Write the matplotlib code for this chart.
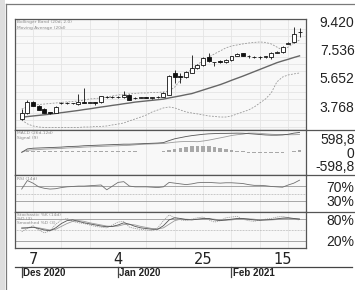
import matplotlib
matplotlib.use("Agg")
import matplotlib.pyplot as plt
import matplotlib.transforms as mtransforms
from matplotlib.patches import Rectangle
from matplotlib.lines import Line2D
import numpy as np
import pandas as pd

# trading days shown
dates = pd.to_datetime([
    "2020-12-03", "2020-12-04", "2020-12-07", "2020-12-08", "2020-12-10", "2020-12-11",
    "2020-12-14", "2020-12-15", "2020-12-16", "2020-12-17", "2020-12-18", "2020-12-21",
    "2020-12-22", "2020-12-23", "2020-12-28", "2020-12-29", "2020-12-30",
    "2021-01-04", "2021-01-05", "2021-01-06", "2021-01-07", "2021-01-08", "2021-01-11",
    "2021-01-12", "2021-01-13", "2021-01-14", "2021-01-15", "2021-01-18", "2021-01-19",
    "2021-01-20", "2021-01-21", "2021-01-22", "2021-01-25", "2021-01-26", "2021-01-27",
    "2021-01-28", "2021-01-29", "2021-02-01", "2021-02-02", "2021-02-03", "2021-02-04",
    "2021-02-05", "2021-02-08", "2021-02-09", "2021-02-10", "2021-02-11", "2021-02-15",
    "2021-02-16", "2021-02-17", "2021-02-18",
])

opens = [2900, 3300, 4040, 3770, 3570, 3370, 3300, 3950, 3970, 3950,
         3900, 4040, 4000, 4030, 4040, 4400, 4370, 4380, 4370, 4510,
         4300, 4330, 4350, 4320, 4340, 4380, 4510, 5980, 5780, 5710,
         5980, 6320, 6520, 7050, 6720, 6780, 6720, 6850, 7150, 7320,
         7120, 7060, 7050, 7060, 7050, 7320, 7390, 7950, 8060, 8730]
highs = [3570, 4170, 4100, 3830, 3620, 3400, 3770, 4040, 4040, 4000,
         4575, 4980, 4060, 4070, 4470, 4450, 4420, 4430, 4780, 4560,
         4380, 4380, 4400, 4370, 4420, 4700, 5850, 6180, 5980, 6100,
         7190, 6580, 7050, 7320, 6750, 6820, 6900, 7150, 7300, 7340,
         7180, 7120, 7110, 7150, 7400, 7450, 7800, 8050, 9060, 9000]
lows = [2830, 3240, 3750, 3480, 3280, 3230, 3280, 3900, 3900, 3880,
        3840, 3970, 3950, 3840, 4000, 4320, 4330, 4330, 4330, 4150,
        4250, 4280, 4290, 4270, 4310, 4350, 4480, 5310, 5310, 5650,
        5950, 6250, 6480, 6720, 6450, 6650, 6650, 6800, 7100, 7100,
        7000, 6980, 6950, 7000, 6950, 7300, 7350, 7900, 7990, 8390]
closes = [3300, 4040, 3770, 3500, 3300, 3300, 3700, 3970, 3950, 3980,
          4040, 4000, 4030, 4000, 4440, 4370, 4390, 4360, 4510, 4170,
          4330, 4350, 4320, 4340, 4400, 4640, 5780, 5710, 5740, 6050,
          6320, 6520, 6990, 6790, 6730, 6700, 6850, 7100, 7250, 7120,
          7130, 7050, 7060, 7120, 7320, 7390, 7720, 7990, 8600, 8750]

ma20 = [3010, 3060, 3100, 3140, 3180, 3220, 3270, 3320, 3370, 3420,
        3470, 3530, 3580, 3640, 3700, 3750, 3810, 3860, 3920, 3970,
        4030, 4070, 4110, 4150, 4190, 4230, 4310, 4380, 4450, 4530,
        4600, 4720, 4840, 4960, 5080, 5200, 5340, 5490, 5630, 5770,
        5920, 6070, 6220, 6370, 6520, 6670, 6790, 6900, 7020, 7130]
bb_upper = [3570, 3700, 3810, 3870, 3900, 3940, 3970, 4010, 4040, 4070,
            4110, 4170, 4240, 4270, 4310, 4370, 4440, 4510, 4540, 4580,
            4610, 4640, 4640, 4680, 4680, 4710, 4780, 5040, 5510, 5920,
            6250, 6520, 6850, 7050, 7260, 7460, 7660, 7790, 7860, 7930,
            7990, 8030, 8060, 8030, 7930, 7720, 7520, 7720, 7990, 8190]
bb_lower = [2830, 2570, 2430, 2360, 2330, 2330, 2330, 2330, 2330, 2330,
            2330, 2360, 2360, 2400, 2400, 2430, 2500, 2560, 2630, 2770,
            2900, 3030, 3170, 3370, 3500, 3640, 3700, 3640, 3500, 3370,
            3300, 3240, 3170, 3100, 3070, 3030, 3030, 3100, 3240, 3370,
            3500, 3700, 3970, 4240, 4640, 5380, 5710, 5850, 5920, 5980]

macd = [0, 150, 180, 190, 200, 210, 220, 230, 250, 260,
        270, 290, 300, 310, 320, 330, 340, 350, 360, 360,
        370, 380, 390, 400, 410, 430, 520, 600, 650, 700,
        740, 770, 800, 820, 830, 840, 840, 845, 850, 845,
        830, 810, 790, 770, 760, 760, 770, 800, 850, 880]
signal = [0, 90, 110, 120, 140, 150, 160, 170, 190, 200,
          210, 230, 240, 250, 260, 270, 280, 290, 300, 310,
          330, 350, 360, 370, 380, 390, 420, 450, 470, 480,
          480, 470, 500, 540, 590, 640, 690, 745, 780, 805,
          850, 850, 840, 820, 800, 790, 790, 780, 780, 790]
macd_hist = [0, 60, 70, 70, 60, 60, 60, 60, 60, 60,
             60, 60, 60, 60, 60, 60, 60, 60, 60, 50,
             40, 30, 30, 30, 30, 40, 100, 150, 180, 220,
             260, 300, 300, 280, 240, 200, 150, 100, 70, 40,
             -20, -40, -50, -50, -40, -30, -20, 20, 70, 90]

rsi = [62, 85, 78, 68, 64, 62, 63, 66, 68, 69,
       70, 70, 71, 72, 73, 60, 70, 80, 82, 70,
       68, 68, 68, 67, 66, 68, 80, 78, 76, 74,
       76, 79, 80, 80, 79, 78, 79, 79, 78, 77,
       74, 72, 72, 71, 69, 68, 67, 73, 78, 86]

stoch_k = [45, 55, 62, 50, 42, 48, 66, 78, 82, 74,
           70, 68, 64, 60, 58, 56, 64, 72, 74, 58,
           54, 52, 50, 48, 56, 76, 92, 84, 78, 76,
           80, 84, 86, 78, 72, 76, 84, 86, 88, 80,
           76, 74, 78, 80, 82, 86, 88, 84, 80, 78]
stoch_d = [55, 56, 58, 54, 50, 48, 56, 68, 76, 78,
           74, 70, 67, 64, 61, 59, 60, 64, 70, 66,
           60, 56, 54, 52, 52, 62, 78, 84, 82, 79,
           78, 80, 82, 82, 78, 76, 78, 80, 82, 82,
           80, 78, 77, 78, 79, 81, 83, 84, 82, 80]
stoch_sd = [56, 56, 57, 56, 53, 50, 52, 60, 68, 74,
            76, 74, 70, 67, 64, 61, 60, 61, 65, 66,
            64, 60, 57, 54, 53, 56, 66, 76, 80, 80,
            79, 79, 80, 81, 80, 78, 77, 78, 80, 81,
            81, 80, 78, 78, 78, 79, 81, 82, 82, 81]

tick_days = pd.to_datetime(["2020-12-07", "2021-01-04", "2021-01-25", "2021-02-15"])
month_labels = ["Des 2020", "Jan 2020", "Feb 2021"]

price_ticks = [3768, 5652, 7536, 9420]
price_labels = ["3.768", "5.652", "7.536", "9.420"]
macd_ticks = [-598.8, 0, 598.8]
macd_labels = ["-598,8", "0", "598,8"]

# ---------------------------------------------------------------
W, H = 355, 290
fig = plt.figure(figsize=(W / 100, H / 100), dpi=100)
fig.patch.set_facecolor("white")

narrow = ["Liberation Sans", "DejaVu Sans"]
x = np.arange(len(dates))
xlim = (-1.18, 50.14)


def px_axes(x0, y0, x1, y1):
    return fig.add_axes([x0 / W, 1 - y1 / H, (x1 - x0) / W, (y1 - y0) / H])


def style(ax, yticks, ylabels):
    ax.set_facecolor("#f8f8f8")
    ax.set_xlim(*xlim)
    for s in ax.spines.values():
        s.set_color("#555555")
        s.set_linewidth(0.9)
    ax.set_xticks(np.arange(2, len(dates), 5), minor=True)
    ax.set_xticks([])
    ax.grid(which="minor", axis="x", color="#e4e4e4", lw=0.6)
    ax.set_yticks(yticks)
    ax.set_yticklabels(ylabels)
    ax.tick_params(axis="y", which="both", left=False, right=False,
                   labelleft=False, labelright=True, pad=31.5,
                   labelsize=10, labelcolor="#222222")
    ax.tick_params(axis="x", which="both", bottom=False, top=False)
    for lbl in ax.get_yticklabels():
        lbl.set_ha("right")
        lbl.set_family(narrow)
    ax.set_axisbelow(True)


ax_p = px_axes(15, 19, 306, 130)
ax_m = px_axes(15, 130, 306, 175)
ax_r = px_axes(15, 175, 306, 212)
ax_s = px_axes(15, 212, 306, 248)

# price panel
style(ax_p, price_ticks, price_labels)
ax_p.set_ylim(2160, 9600)
ax_p.set_yticks(np.arange(471 * 5, 9600, 471), minor=True)
ax_p.grid(which="minor", axis="y", color="#e4e4e4", lw=0.6)

ax_p.plot(x, bb_upper, color="#9a9a9a", lw=0.6, ls=(0, (2.2, 1.6)))
ax_p.plot(x, bb_lower, color="#9a9a9a", lw=0.6, ls=(0, (2.2, 1.6)))
ax_p.plot(x, ma20, color="#666666", lw=1.0)

bw = 0.7
for i in range(len(dates)):
    o, h, l, c = opens[i], highs[i], lows[i], closes[i]
    ax_p.vlines(x[i], l, h, color="#111111", lw=0.6, zorder=3)
    lo, hi = min(o, c), max(o, c)
    fc = "white" if c >= o else "#111111"
    ax_p.add_patch(Rectangle((x[i] - bw / 2, lo), bw, hi - lo, facecolor=fc,
                             edgecolor="#111111", lw=0.6, zorder=4))

# MACD panel
style(ax_m, macd_ticks, macd_labels)
ax_m.set_ylim(-1010, 990)
ax_m.bar(x, macd_hist, width=0.6, color="#a8a8a8")
ax_m.plot(x, signal, color="#9a9a9a", lw=0.6)
ax_m.plot(x, macd, color="#555555", lw=0.6)

# RSI panel
style(ax_r, [30, 70], ["30%", "70%"])
ax_r.set_ylim(0, 100)
ax_r.axhline(70, color="#999999", lw=0.6)
ax_r.axhline(30, color="#999999", lw=0.6)
ax_r.axhline(50, color="#999999", lw=0.5, ls=(0, (1, 1.2)))
ax_r.plot(x, rsi, color="#707070", lw=0.6)

# Stochastic panel
style(ax_s, [20, 80], ["20%", "80%"])
ax_s.set_ylim(0, 100)
ax_s.axhline(80, color="#999999", lw=0.6)
ax_s.axhline(20, color="#999999", lw=0.6)
ax_s.axhline(50, color="#999999", lw=0.5, ls=(0, (1, 1.2)))
ax_s.plot(x, stoch_k, color="#a0a0a0", lw=0.6, ls=(0, (1.5, 1)))
ax_s.plot(x, stoch_sd, color="#9a9a9a", lw=0.6)
ax_s.plot(x, stoch_d, color="#555555", lw=0.6)

tick_idx = [int(np.where(dates == d)[0][0]) for d in tick_days]
ax_s.set_xticks(tick_idx)
ax_s.set_xticklabels([str(d.day) for d in tick_days])
ax_s.tick_params(axis="x", which="major", length=0, pad=3, labelsize=10.5,
                 labelcolor="#222222")

# month axis under the day labels
fig.add_artist(Line2D([15 / W, 352 / W], [1 - 267 / H] * 2, color="#444444",
                      lw=0.9, transform=fig.transFigure))
trans = mtransforms.blended_transform_factory(ax_s.transData, fig.transFigure)
month_starts = pd.Series(x, index=dates).groupby(dates.to_period("M")).first()
for pos, lab in zip(month_starts.values, month_labels):
    fig.add_artist(Line2D([pos, pos], [1 - 267 / H, 1 - 277 / H], color="#444444",
                          lw=0.9, transform=trans))
    ax_s.annotate(lab, xy=(pos, 1 - 272.5 / H), xycoords=trans, xytext=(1.0, 0),
                  textcoords="offset points", ha="left", va="center",
                  fontsize=7, fontweight="bold", color="#222222",
                  family=narrow, annotation_clip=False)

# small panel captions
captions = [
    (22.5, "Bollinger Band (20d, 2.0)"),
    (27.5, "Moving Average (20d)"),
    (133.5, "MACD (26d,12d)"),
    (138.5, "Signal (9)"),
    (178.5, "RSI (14d)"),
    (215.5, "Stochastic %K (14d)"),
    (219.5, "%D (3)"),
    (223.5, "Smoothed %D (3)"),
]
for ypx, txt in captions:
    fig.text(17 / W, 1 - ypx / H, txt, fontsize=3.2, color="#8a8a8a",
             va="center", ha="left")

# outer frame and separators at the right
fig.add_artist(Rectangle((0, 0), 5 / W, 1, transform=fig.transFigure,
                         facecolor="#dedede", edgecolor="none"))
fig.add_artist(Line2D([5.5 / W] * 2, [0, 1 - 3.5 / H], color="#7a7a7a", lw=0.9,
                      transform=fig.transFigure))
fig.add_artist(Line2D([5.5 / W, 1], [1 - 3.5 / H] * 2, color="#7a7a7a", lw=0.9,
                      transform=fig.transFigure))
for ypx in [130, 175, 212]:
    fig.add_artist(Line2D([306 / W, 1], [1 - ypx / H] * 2, color="#555555",
                          lw=0.9, transform=fig.transFigure))

fig.savefig("out.png", dpi=100)
